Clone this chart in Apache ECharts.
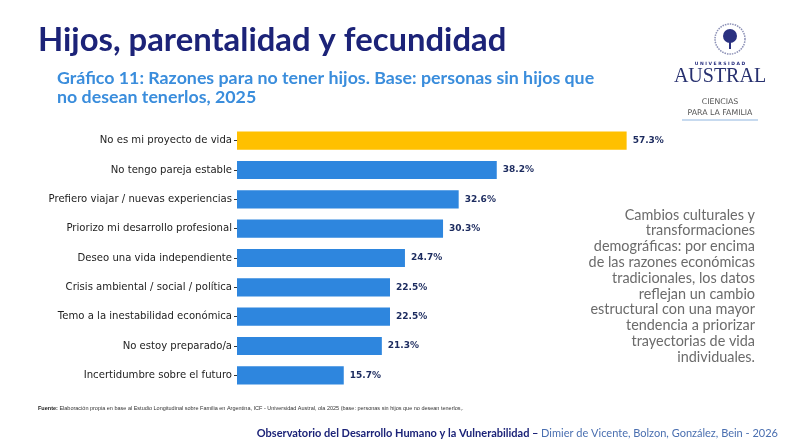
<!DOCTYPE html>
<html>
<head>
<meta charset="utf-8">
<script src="https://cdn.jsdelivr.net/npm/echarts@6/dist/echarts.min.js"></script>
<style>
  html, body { margin: 0; padding: 0; background: #fff; }
  #chart { width: 790px; height: 444px; }
</style>
</head>
<body>
<div id="chart"></div>
<script>
// razones para no tener hijos (2025), de arriba hacia abajo
const categories = [
  'No es mi proyecto de vida',
  'No tengo pareja estable',
  'Prefiero viajar / nuevas experiencias',
  'Priorizo mi desarrollo profesional',
  'Deseo una vida independiente',
  'Crisis ambiental / social / política',
  'Temo a la inestabilidad económica',
  'No estoy preparado/a',
  'Incertidumbre sobre el futuro'
];
const values = [57.3, 38.2, 32.6, 30.3, 24.7, 22.5, 22.5, 21.3, 15.7];

const noteLines = [
  'Cambios culturales y',
  'transformaciones',
  'demográficas: por encima',
  'de las razones económicas',
  'tradicionales, los datos',
  'reflejan un cambio',
  'estructural con una mayor',
  'tendencia a priorizar',
  'trayectorias de vida',
  'individuales.'
];

const BLUE = '#2E86DE';
const YELLOW = '#FFC000';
const NAVY = '#1c2378';

const chart = echarts.init(document.getElementById('chart'));

const option = {
  backgroundColor: '#fff',
  animation: false,
  title: [
    {
      text: 'Hijos, parentalidad y fecundidad',
      left: 33, top: 19,
      textStyle: { fontFamily: 'Lato', fontWeight: 'bold', fontSize: 32.8, color: NAVY }
    },
    {
      text: 'Gráfico 11: Razones para no tener hijos. Base: personas sin hijos que\nno desean tenerlos, 2025',
      left: 52, top: 64,
      textStyle: { fontFamily: 'Lato', fontWeight: 'bold', fontSize: 17.8, color: '#3a8ddc', lineHeight: 19 }
    }
  ],
  grid: { left: 237, top: 126, width: 408, height: 264, containLabel: false },
  xAxis: {
    type: 'value', min: 0, max: 60, show: false
  },
  yAxis: {
    type: 'category',
    inverse: true,
    data: categories,
    axisLine: { show: false },
    axisTick: { show: true, alignWithLabel: true, length: 3, lineStyle: { color: '#333' } },
    axisLabel: { fontFamily: 'DejaVu Sans', fontSize: 10.1, color: '#222', margin: 5 }
  },
  series: [{
    type: 'bar',
    data: values.map((v, i) => ({ value: v, itemStyle: { color: i === 0 ? YELLOW : BLUE } })),
    barCategoryGap: '38%',
    label: {
      show: true, position: 'right', distance: 6,
      formatter: p => p.value.toFixed(1) + '%',
      fontFamily: 'DejaVu Sans', fontWeight: 'bold', fontSize: 9, color: '#1b2a5e'
    }
  }],
  graphic: [
    // nota lateral
    {
      type: 'text', x: 755, y: 207,
      style: {
        text: noteLines.join('\n'), align: 'right', verticalAlign: 'top',
        font: '14.4px Lato', fill: '#6b6b6b', lineHeight: 15.8
      }
    },
    // logo
    {
      type: 'circle', shape: { cx: 730, cy: 39, r: 15 },
      style: { fill: 'none', stroke: '#8a8fb5', lineWidth: 1.5, lineDash: [1.5, 1] }
    },
    {
      type: 'circle', shape: { cx: 730, cy: 36, r: 7 },
      style: { fill: '#2a3180' }
    },
    {
      type: 'rect', shape: { x: 729, y: 41, width: 2, height: 8 },
      style: { fill: '#2a3180' }
    },
    {
      type: 'text', x: 720, y: 64,
      style: { text: 'U N I V E R S I D A D', align: 'center', verticalAlign: 'middle', font: 'bold 4.5px DejaVu Sans', fill: '#2a3180' }
    },
    {
      type: 'text', x: 720, y: 77,
      style: { text: 'AUSTRAL', align: 'center', verticalAlign: 'middle', font: '20px Liberation Serif', fill: '#27306f' }
    },
    {
      type: 'text', x: 720, y: 96,
      style: { text: 'CIENCIAS\nPARA LA FAMILIA', align: 'center', verticalAlign: 'top', font: '7.8px DejaVu Sans', fill: '#555', lineHeight: 11 }
    },
    {
      type: 'line', shape: { x1: 682, y1: 120, x2: 758, y2: 120 },
      style: { stroke: '#8fb5e0', lineWidth: 1.2 }
    },
    // fuente
    {
      type: 'text', left: 38, top: 405,
      style: {
        text: '{b|Fuente:} Elaboración propia en base al Estudio Longitudinal sobre Familia en Argentina, ICF - Universidad Austral, ola 2025 (base: personas sin hijos que no desean tenerlos,.',
        font: '5.5px Liberation Sans', fill: '#333',
        rich: { b: { fontWeight: 'bold', fontSize: 5.5, fontFamily: 'Liberation Sans', fill: '#222' } }
      }
    },
    // pie
    {
      type: 'text', right: 12, top: 428,
      style: {
        text: '{b|Observatorio del Desarrollo Humano y la Vulnerabilidad – }{r|Dimier de Vicente, Bolzon, González, Bein - 2026}',
        rich: {
          b: { fontFamily: 'Lato', fontWeight: 'bold', fontSize: 11, fill: NAVY },
          r: { fontFamily: 'Lato', fontSize: 11, fill: '#4a6fb0' }
        }
      }
    }
  ]
};

chart.setOption(option);
</script>
</body>
</html>
